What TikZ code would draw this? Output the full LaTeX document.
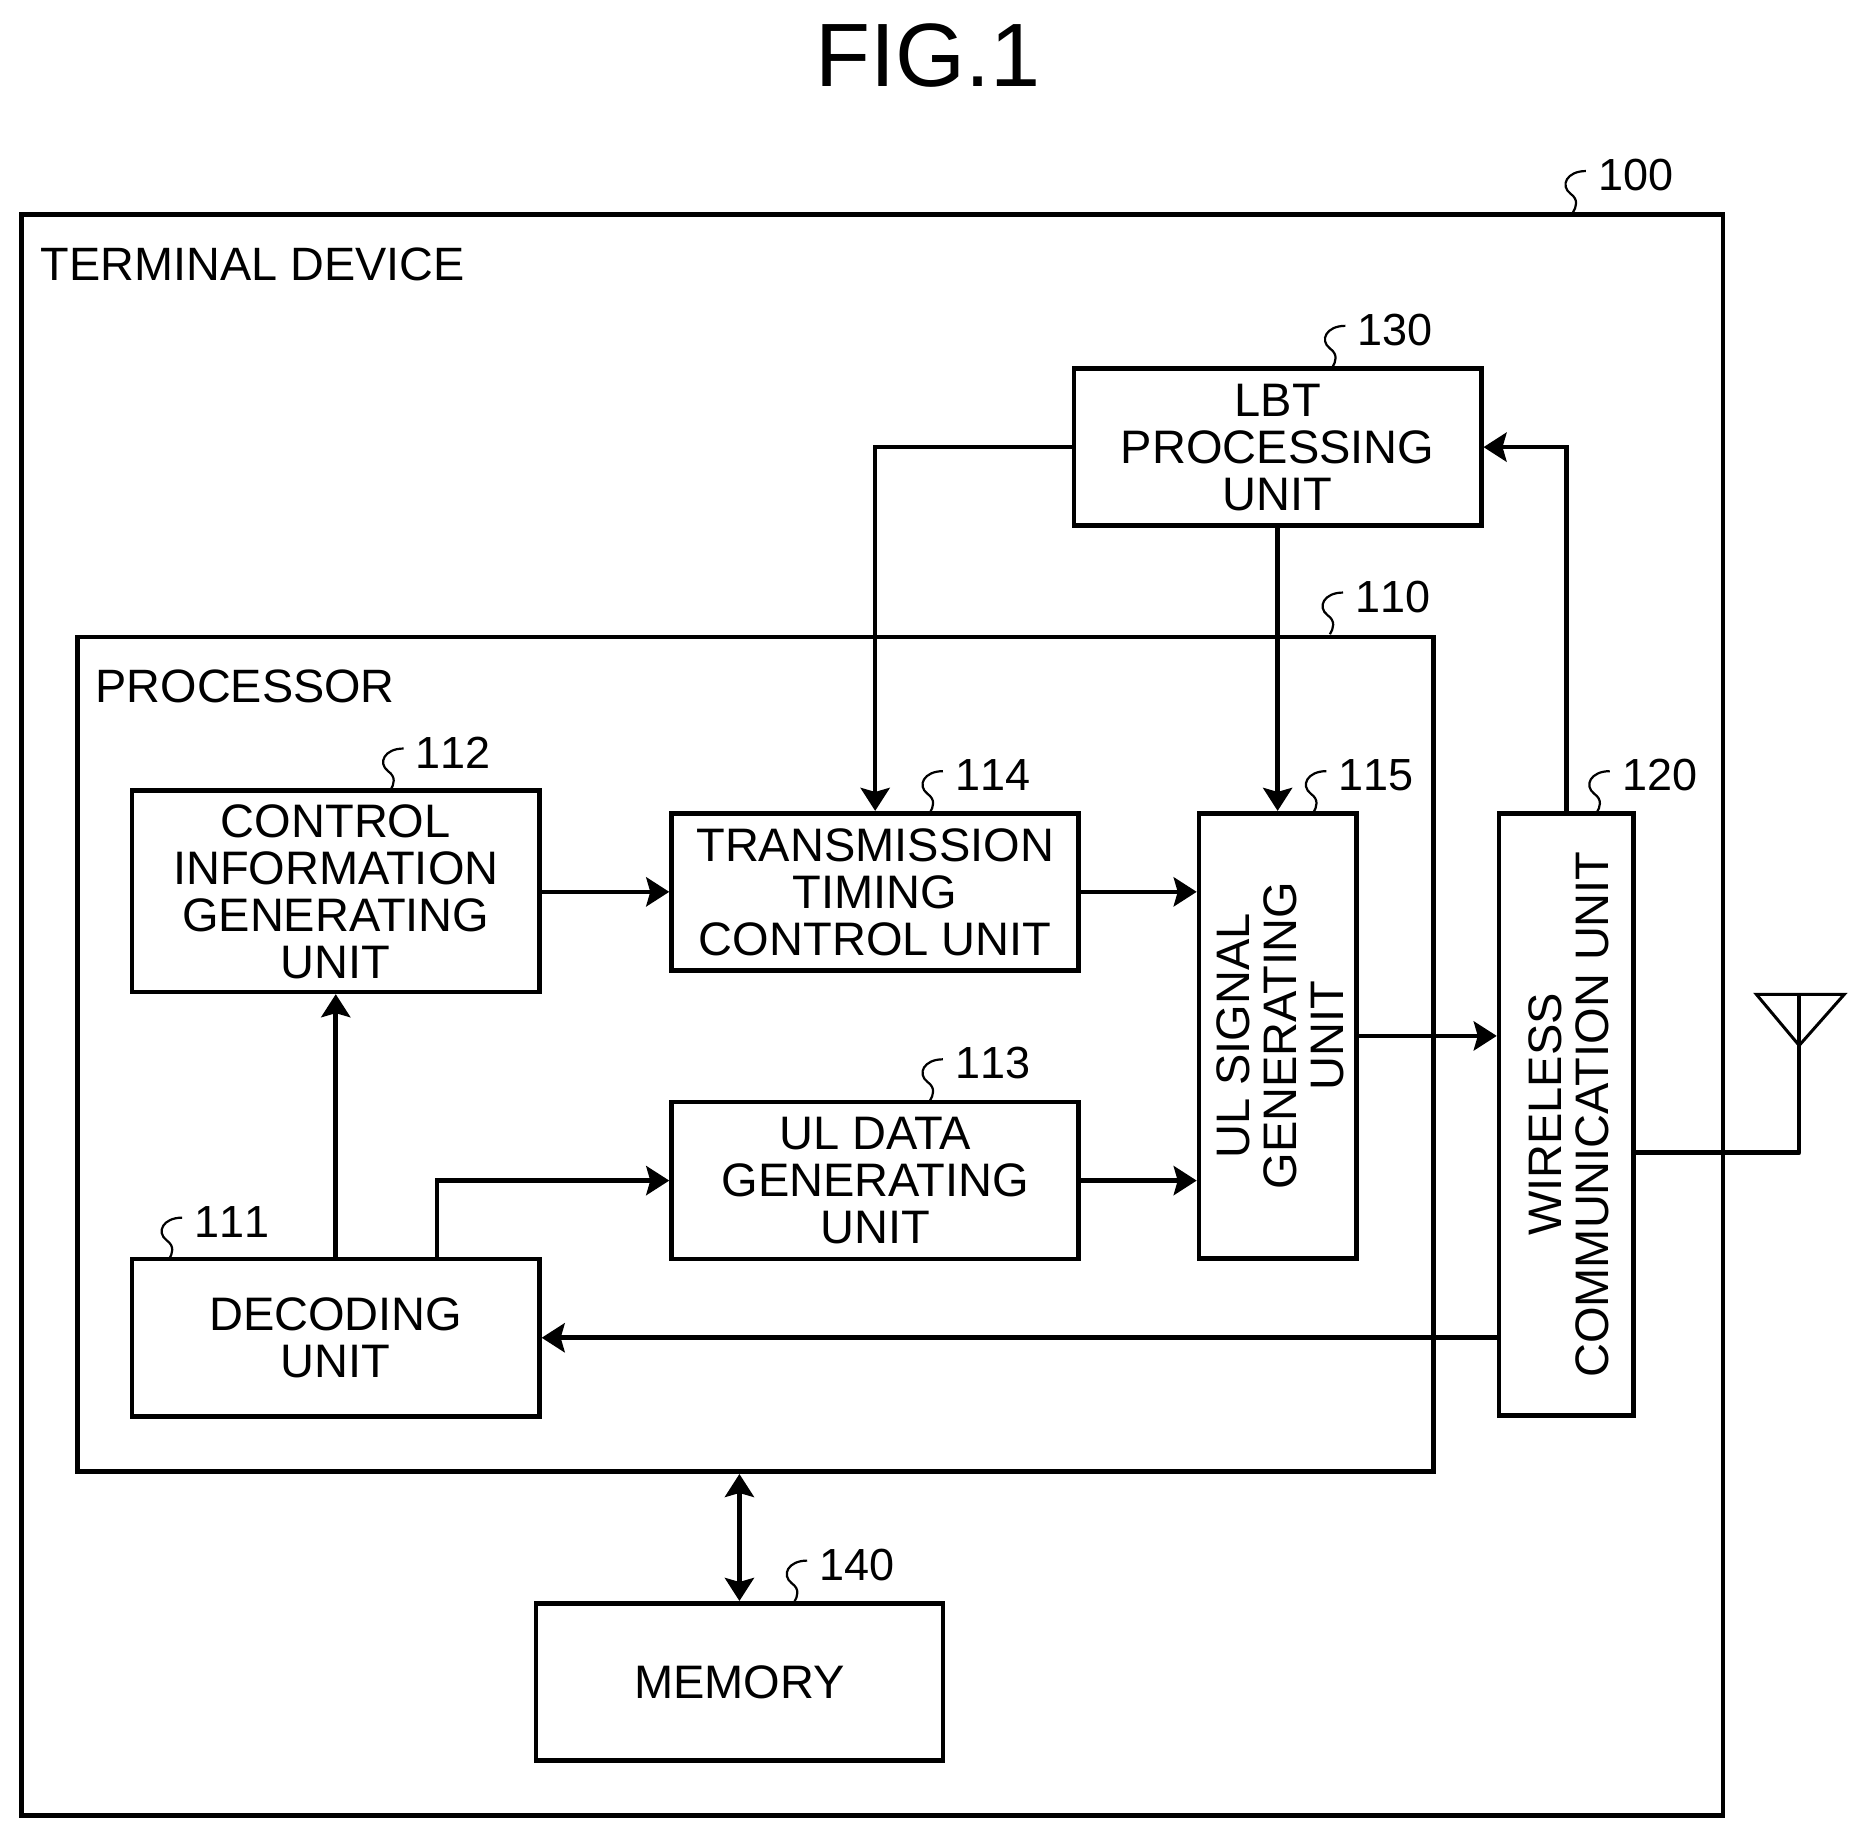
\documentclass[tikz,border=0pt]{standalone}
\usepackage{fontspec}
\setmainfont{Liberation Sans}
\newfontfamily\numfont[Kerning=Off]{Liberation Sans}
\usetikzlibrary{arrows.meta}
\tikzset{
  unitbox/.style={draw, line width=2.3pt, inner sep=0pt, align=center, text depth=-1.5pt, font=\fontsize{23.5}{23.5}\selectfont},
  wide/.style={unitbox, minimum width=203.6pt, minimum height=78.6pt},
  tall/.style={unitbox, text depth=0pt},
  refnum/.style={inner sep=0pt, font=\fontsize{22.5}{22.5}\numfont},
  caption/.style={inner sep=0pt, anchor=west, font=\fontsize{23.4}{23.4}\selectfont},
  wire/.style={line width=2.3pt},
  squig/.pic={\draw [line width=1.1pt] (0,0) .. controls (-16,0) and (-22,12) .. (-13,19) .. controls (-6,24) and (-8,30) .. (-11,35);}
}
\newcommand{\vtext}[1]{\makebox[0pt]{\hspace*{9.6pt}\rotatebox{90}{\begin{tabular}{@{}c@{}}#1\end{tabular}}}}
\begin{document}
\begin{tikzpicture}[x=0.59535pt, y=-0.59535pt, >={Stealth[length=11.5pt,width=14.5pt,inset=2pt]}]
      \useasboundingbox (0,0) rectangle (1568,1544.5);
      \node [inner sep=0pt, font=\fontsize{45}{45}\selectfont] (fig) at (779.5,47) {FIG.1};
      % outer frames
      \node [unitbox, minimum width=850.8pt, minimum height=800.7pt] (outer) at (732.5,852.5) {};
      \node [unitbox, minimum width=678.1pt, minimum height=417.3pt] (proc) at (634.5,885.5) {};
      \node [caption] (outertext) at (34,222) {TERMINAL DEVICE};
      \node [caption] (proctext) at (80,576.5) {PROCESSOR};
      % units
      \node [wide] (lbt) at (1073,375.5) {LBT\\PROCESSING\\UNIT};
      \node [wide, minimum height=100.6pt] (ctrl) at (282,748.5) {CONTROL\\INFORMATION\\GENERATING\\UNIT};
      \node [wide] (trans) at (735,749) {TRANSMISSION\\TIMING\\CONTROL UNIT};
      \node [wide] (data) at (735,991.5) {UL DATA\\GENERATING\\UNIT};
      \node [wide] (dec) at (282,1123.5) {DECODING\\UNIT};
      \node [wide] (mem) at (621,1412.5) {MEMORY};
      \node [tall, minimum width=78.6pt, minimum height=222.7pt] (ulsig) at (1073,870) {\vtext{UL SIGNAL\\GENERATING\\UNIT}};
      \node [tall, minimum width=67.3pt, minimum height=301.2pt] (wcu) at (1315.5,936) {\vtext{WIRELESS\\COMMUNICATION UNIT}};
      % reference numbers
      \node [refnum, anchor=west] (n100) at (1342,147) {100};
      \node [refnum, anchor=west] (n130) at (1140,277) {130};
      \node [refnum, anchor=west] (n110) at (1138,501) {110};
      \node [refnum, anchor=west] (n112) at (349,632) {112};
      \node [refnum, anchor=west] (n114) at (802,651) {114};
      \node [refnum, anchor=west] (n115) at (1124,651) {115};
      \node [refnum, anchor=west] (n120) at (1362,651) {120};
      \node [refnum, anchor=west] (n113) at (802,893) {113};
      \node [refnum, anchor=west] (n111) at (163,1026) {111};
      \node [refnum, anchor=west] (n140) at (688,1314) {140};
      \pic at ([xshift=-6pt, yshift=2pt] n100.west) {squig};
      \pic at ([xshift=-6pt, yshift=2pt] n130.west) {squig};
      \pic at ([xshift=-6pt, yshift=2pt] n110.west) {squig};
      \pic at ([xshift=-6pt, yshift=2pt] n112.west) {squig};
      \pic at ([xshift=-6pt, yshift=2pt] n114.west) {squig};
      \pic at ([xshift=-6pt, yshift=2pt] n115.west) {squig};
      \pic at ([xshift=-6pt, yshift=2pt] n120.west) {squig};
      \pic at ([xshift=-6pt, yshift=2pt] n113.west) {squig};
      \pic at ([xshift=-6pt, yshift=2pt] n111.west) {squig};
      \pic at ([xshift=-6pt, yshift=2pt] n140.west) {squig};
      % connections
      \coordinate (decout) at (367,1058);
      \coordinate (antfoot) at (1511,968);
      \coordinate (anttop) at (1511,835);
      \coordinate (antleft) at (1475,835);
      \coordinate (antright) at (1549,835);
      \coordinate (anttip) at (1511,878);
      \draw [wire, ->] (lbt.west) -| (trans.north);
      \draw [wire, ->] (lbt.south) -- (ulsig.north);
      \draw [wire, ->] (wcu.north) |- (lbt.east);
      \draw [wire, ->] (ctrl.east |- trans.west) -- (trans.west);
      \draw [wire, ->] (trans.east) -- (trans.east -| ulsig.west);
      \draw [wire, ->] (data.east) -- (data.east -| ulsig.west);
      \draw [wire, ->] (ulsig.east) -- (ulsig.east -| wcu.west);
      \draw [wire, ->] (dec.north) -- (ctrl.south);
      \draw [wire, ->] (decout) |- (data.west);
      \draw [wire, ->] (dec.east -| wcu.west) -- (dec.east);
      \draw [wire, <->] (mem.north) -- (mem.north |- proc.south);
      \draw [wire, line join=round] (antfoot -| wcu.east) -- (antfoot) -- (anttop);
      \draw [line width=1.5pt, line join=miter] (antleft) -- (antright) -- (anttip) -- cycle;
\end{tikzpicture}
\end{document}
